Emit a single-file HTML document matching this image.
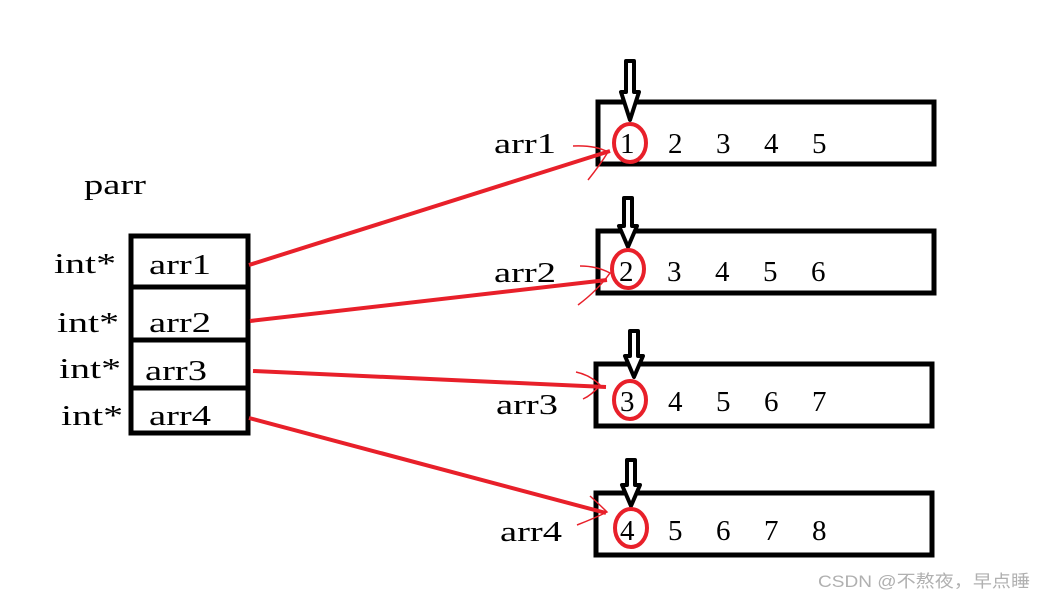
<!DOCTYPE html>
<html><head><meta charset="utf-8"><style>
html,body{margin:0;padding:0;background:#fff;}
svg text{font-family:"Liberation Serif","Noto Serif CJK SC",serif;}
</style></head><body>
<svg width="1045" height="601" viewBox="0 0 1045 601" xmlns="http://www.w3.org/2000/svg">
<g fill="none" stroke="#000" stroke-width="5">
<rect x="131" y="236" width="117" height="197"/>
<line x1="131" y1="287" x2="248" y2="287"/>
<line x1="131" y1="340" x2="248" y2="340"/>
<line x1="131" y1="388" x2="248" y2="388"/>
<rect x="598" y="102" width="336" height="62"/>
<rect x="598" y="231" width="336" height="62"/>
<rect x="596" y="364" width="336" height="62"/>
<rect x="596" y="493" width="336" height="62"/>
</g>
<g fill="#fff" stroke="#000" stroke-width="4" stroke-linejoin="round">
<path d="M626,61 L634,61 L634,92 L639,92 L630,120 L621,92 L626,92 Z"/>
<path d="M624,198 L632,198 L632,226 L637,226 L628,247 L619,226 L624,226 Z"/>
<path d="M630,331 L638,331 L638,356 L643,356 L634,377 L625,356 L630,356 Z"/>
<path d="M627,460 L635,460 L635,485 L640,485 L631,506 L622,485 L627,485 Z"/>
</g>
<g font-size="29" fill="#000">
<text x="84" y="194" textLength="62" lengthAdjust="spacingAndGlyphs">parr</text>
<text x="54" y="273" textLength="62" lengthAdjust="spacingAndGlyphs">int*</text>
<text x="57" y="332" textLength="62" lengthAdjust="spacingAndGlyphs">int*</text>
<text x="59" y="378" textLength="62" lengthAdjust="spacingAndGlyphs">int*</text>
<text x="61" y="425" textLength="62" lengthAdjust="spacingAndGlyphs">int*</text>
<text x="149" y="274" textLength="62" lengthAdjust="spacingAndGlyphs">arr1</text>
<text x="149" y="332" textLength="62" lengthAdjust="spacingAndGlyphs">arr2</text>
<text x="145" y="380" textLength="62" lengthAdjust="spacingAndGlyphs">arr3</text>
<text x="149" y="425" textLength="62" lengthAdjust="spacingAndGlyphs">arr4</text>
<text x="494" y="153" textLength="62" lengthAdjust="spacingAndGlyphs">arr1</text>
<text x="494" y="282" textLength="62" lengthAdjust="spacingAndGlyphs">arr2</text>
<text x="496" y="414" textLength="62" lengthAdjust="spacingAndGlyphs">arr3</text>
<text x="500" y="541" textLength="62" lengthAdjust="spacingAndGlyphs">arr4</text>
<text x="620" y="153">1</text><text x="668" y="153">2</text><text x="716" y="153">3</text><text x="764" y="153">4</text><text x="812" y="153">5</text>
<text x="619" y="281">2</text><text x="667" y="281">3</text><text x="715" y="281">4</text><text x="763" y="281">5</text><text x="811" y="281">6</text>
<text x="620" y="411">3</text><text x="668" y="411">4</text><text x="716" y="411">5</text><text x="764" y="411">6</text><text x="812" y="411">7</text>
<text x="620" y="540">4</text><text x="668" y="540">5</text><text x="716" y="540">6</text><text x="764" y="540">7</text><text x="812" y="540">8</text>
</g>
<g fill="none" stroke="#e8202a" stroke-width="4">
<ellipse cx="630" cy="143" rx="16" ry="19"/>
<ellipse cx="628" cy="269" rx="16" ry="19"/>
<ellipse cx="630" cy="400" rx="16" ry="19"/>
<ellipse cx="631" cy="528" rx="16" ry="19"/>
<line x1="249" y1="265" x2="610" y2="151"/>
<line x1="250" y1="321" x2="607" y2="280"/>
<line x1="253" y1="371" x2="606" y2="387"/>
<line x1="249" y1="418" x2="606" y2="513"/>
</g>
<g fill="none" stroke="#e8202a" stroke-width="1.5">
<path d="M573,146 Q595,145 608,152 Q600,165 588,180"/>
<path d="M580,266 Q597,266 610,273 Q598,290 578,305"/>
<path d="M576,372 Q590,375 600,385 Q592,395 583,399"/>
<path d="M577,525 Q595,518 607,512 Q600,505 590,496"/>
</g>
<text x="818" y="587" font-size="17" fill="#b0b0b0" textLength="212" lengthAdjust="spacingAndGlyphs" style='font-family:"Liberation Sans","Noto Sans CJK SC",sans-serif'>CSDN @不熬夜，早点睡</text>
</svg>
</body></html>
